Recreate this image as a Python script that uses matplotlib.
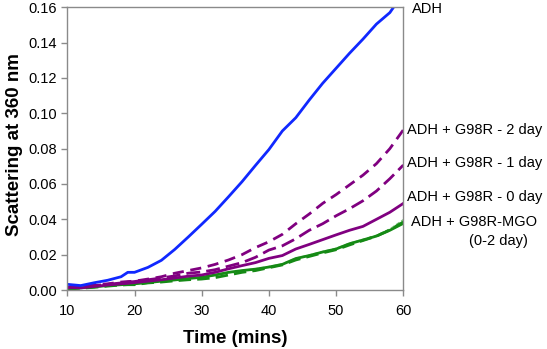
"""
ADH scattering vs time
"""
import matplotlib
matplotlib.use('Agg')
import matplotlib.pyplot as plt

# time points (mins)
time = [10, 12, 14, 16, 18, 19, 20, 22, 24, 26, 28, 30, 32, 34, 36, 38,
        40, 42, 44, 46, 48, 50, 52, 54, 56, 58, 60]

adh = [0.0032, 0.0025, 0.0041, 0.0055, 0.0075, 0.0100, 0.0100, 0.0128, 0.0168,
       0.0230, 0.0300, 0.0372, 0.0445, 0.0528, 0.0613, 0.0705, 0.0795, 0.0900,
       0.0975, 0.1075, 0.1170, 0.1255, 0.1340, 0.1420, 0.1505, 0.1570, 0.1680]

g98r_2day = [0.0015, 0.0020, 0.0030, 0.0035, 0.0045, 0.0048, 0.0050, 0.0062, 0.0075,
             0.0095, 0.0110, 0.0125, 0.0145, 0.0170, 0.0200, 0.0240, 0.0273, 0.0315,
             0.0375, 0.0430, 0.0490, 0.0540, 0.0595, 0.0650, 0.0715, 0.0800, 0.0906]

g98r_1day = [0.0012, 0.0018, 0.0025, 0.0032, 0.0040, 0.0044, 0.0048, 0.0058, 0.0068,
             0.0080, 0.0095, 0.0102, 0.0115, 0.0135, 0.0155, 0.0185, 0.0226, 0.0250,
             0.0290, 0.0338, 0.0375, 0.0420, 0.0460, 0.0505, 0.0560, 0.0630, 0.0707]

g98r_0day = [0.0015, 0.0012, 0.0020, 0.0028, 0.0035, 0.0038, 0.0042, 0.0050, 0.0058,
             0.0068, 0.0078, 0.0085, 0.0100, 0.0120, 0.0138, 0.0155, 0.0179, 0.0195,
             0.0232, 0.0258, 0.0285, 0.0312, 0.0338, 0.0360, 0.0400, 0.0440, 0.0490]

mgo_solid = [0.0010, 0.0012, 0.0018, 0.0025, 0.0030, 0.0033, 0.0035, 0.0042, 0.0050,
             0.0057, 0.0065, 0.0072, 0.0085, 0.0100, 0.0110, 0.0118, 0.0130, 0.0145,
             0.0178, 0.0195, 0.0215, 0.0232, 0.0262, 0.0283, 0.0305, 0.0338, 0.0377]

mgo_dash = [0.0005, 0.0010, 0.0015, 0.0022, 0.0028, 0.0030, 0.0030, 0.0040, 0.0045,
            0.0052, 0.0058, 0.0062, 0.0070, 0.0085, 0.0100, 0.0110, 0.0126, 0.0142,
            0.0170, 0.0190, 0.0210, 0.0228, 0.0255, 0.0280, 0.0305, 0.0340, 0.0385]

mgo_light = [0.0008, 0.0011, 0.0017, 0.0024, 0.0030, 0.0032, 0.0034, 0.0041, 0.0049,
             0.0056, 0.0064, 0.0071, 0.0083, 0.0098, 0.0110, 0.0120, 0.0133, 0.0148,
             0.0180, 0.0198, 0.0218, 0.0236, 0.0265, 0.0287, 0.0310, 0.0345, 0.0398]

labels = ['ADH', 'ADH + G98R - 2 day', 'ADH + G98R - 1 day', 'ADH + G98R - 0 day',
          'ADH + G98R-MGO', '(0-2 day)']

plt.rcParams['font.family'] = ['Liberation Sans', 'DejaVu Sans']

W, H = 547, 349
fig = plt.figure(figsize=(W / 100, H / 100), dpi=100)
ax = fig.add_axes([67.3 / W, 1 - 290 / H, (403.3 - 67.3) / W, (290 - 7.3) / H])

blue = '#1028ff'
purple = '#800080'
green = '#158a15'
lw = 2.0

ax.plot(time, mgo_light, color='#7cc27c', lw=1.0, dashes=(3, 1.5))
ax.plot(time, mgo_dash, color=green, lw=lw, dashes=(4.5, 2.2))
ax.plot(time, mgo_solid, color=green, lw=lw)
ax.plot(time, g98r_0day, color=purple, lw=lw)
ax.plot(time, g98r_1day, color=purple, lw=lw, dashes=(5, 2.2))
ax.plot(time, g98r_2day, color=purple, lw=lw, dashes=(4, 2.4))
ax.plot(time, adh, color=blue, lw=lw)

ax.set_xlim(10, 60)
ax.set_ylim(0, 0.16)
ax.set_xticks([10, 20, 30, 40, 50, 60])
ax.set_yticks([0, 0.02, 0.04, 0.06, 0.08, 0.10, 0.12, 0.14, 0.16])
ax.yaxis.set_major_formatter(plt.FormatStrFormatter('%.2f'))

for s in ax.spines.values():
    s.set_color('#8a8a8a')
    s.set_linewidth(1.0)
ax.tick_params(direction='out', length=4, width=1, color='#8a8a8a', labelsize=10.5)
ax.tick_params(axis='x', pad=6)

ax.set_xlabel('Time (mins)', fontsize=13.5, fontweight='bold')
ax.set_ylabel('Scattering at 360 nm', fontsize=13.5, fontweight='bold')
ax.xaxis.set_label_coords(0.5, -0.14)
ax.yaxis.set_label_coords(-0.132, 0.515)

# labels to the right of the plot
label_pos = [(412, 9), (407, 130), (407, 163), (407, 197), (411, 222), (498, 241)]
for text, (px, py) in zip(labels, label_pos):
    ha = 'center' if text.startswith('(') else 'left'
    fig.text(px / W, 1 - py / H, text, fontsize=10.5, ha=ha, va='center')

fig.savefig('out.png', dpi=100)
